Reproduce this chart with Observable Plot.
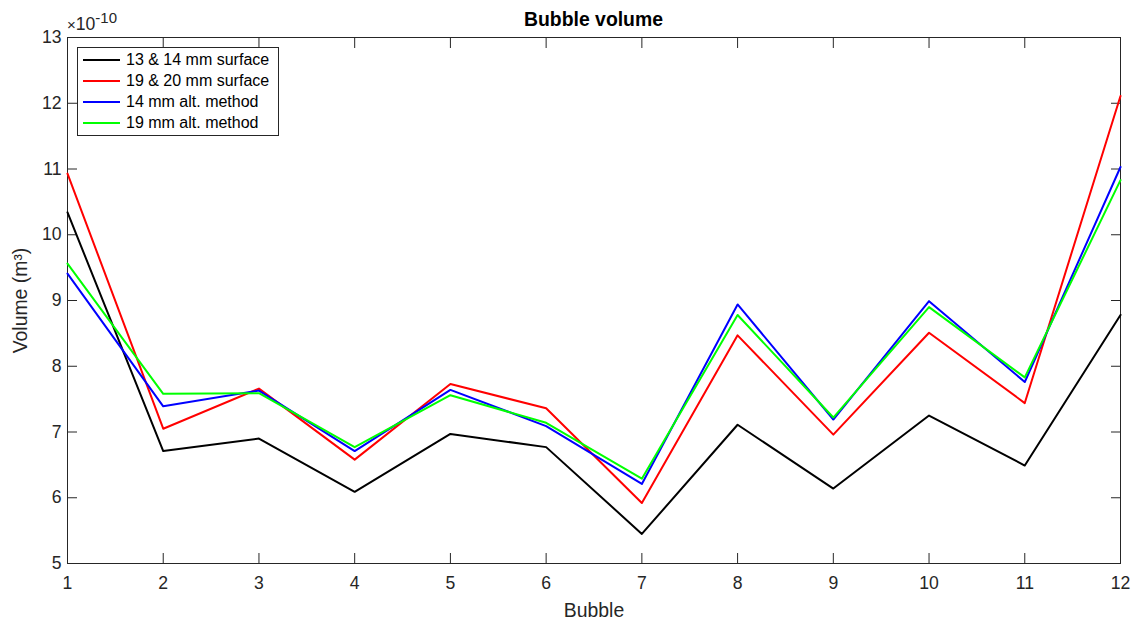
<!DOCTYPE html>
<html>
<head>
<meta charset="utf-8">
<script src="https://cdn.jsdelivr.net/npm/d3@7"></script>
<script src="https://cdn.jsdelivr.net/npm/@observablehq/plot@0.6"></script>
<style>
  html, body { margin: 0; padding: 0; background: #fff; }
  #wrap { position: relative; width: 1134px; height: 621px; font-family: "Liberation Sans", Arial, Helvetica, sans-serif; }
  #title { position: absolute; left: 0; width: 1187px; top: 8px; line-height: 22px; text-align: center; font-weight: bold; font-size: 19.4px; color: #000; }
  #expo { position: absolute; left: 67px; top: 14px; line-height: 20px; font-size: 17.6px; color: #262626; white-space: nowrap; }
  #expo .x { font-size: 15px; }
  #expo .sup { position: relative; top: -7px; font-size: 15px; }
  #legend { position: absolute; left: 77px; top: 47px; width: 202px; height: 89px; border: 1px solid #262626; background: #fff; box-sizing: border-box; }
  .lg-line { position: absolute; left: 5px; }
  .lg-text { position: absolute; left: 48px; height: 20px; line-height: 20px; font-size: 16px; color: #000; white-space: nowrap; }
</style>
</head>
<body>
<div id="wrap">
  <div id="chart"></div>
  <div id="title">Bubble volume</div>
  <div id="expo"><span class="x">×</span>10<span class="sup">-10</span></div>
  <div id="legend"></div>
</div>
<script>
const bubbles = [1, 2, 3, 4, 5, 6, 7, 8, 9, 10, 11, 12];
const seriesNames = ["13 & 14 mm surface", "19 & 20 mm surface", "14 mm alt. method", "19 mm alt. method"];
const seriesColors = ["#000000", "#ff0000", "#0000ff", "#00ff00"];
// values in units of 1e-10 m^3
const surface13_14 = [10.34, 6.71, 6.90, 6.09, 6.97, 6.77, 5.45, 7.11, 6.14, 7.25, 6.49, 8.78];
const surface19_20 = [10.93, 7.05, 7.66, 6.58, 7.73, 7.36, 5.92, 8.47, 6.96, 8.51, 7.44, 12.11];
const alt14 = [9.41, 7.39, 7.63, 6.71, 7.64, 7.09, 6.21, 8.94, 7.19, 8.99, 7.76, 11.03];
const alt19 = [9.56, 7.58, 7.59, 6.77, 7.56, 7.14, 6.29, 8.78, 7.22, 8.90, 7.83, 10.83];
const xTicks = [1, 2, 3, 4, 5, 6, 7, 8, 9, 10, 11, 12];
const yTicks = [5, 6, 7, 8, 9, 10, 11, 12, 13];

const allSeries = [surface13_14, surface19_20, alt14, alt19];
const rows = [];
allSeries.forEach((vals, i) => vals.forEach((v, j) => rows.push({bubble: bubbles[j], value: v, series: seriesNames[i]})));

const axisColor = "#262626";
const chart = Plot.plot({
  width: 1134,
  height: 621,
  marginLeft: 67,
  marginRight: 14,
  marginTop: 37,
  marginBottom: 58,
  style: {fontFamily: '"Liberation Sans", Arial, Helvetica, sans-serif', fontSize: "17.6px", color: axisColor, background: "#fff"},
  x: {domain: [1, 12]},
  y: {domain: [5, 13]},
  color: {domain: seriesNames, range: seriesColors},
  marks: [
    Plot.frame({stroke: axisColor, strokeWidth: 1}),
    Plot.axisX({anchor: "bottom", ticks: xTicks, tickSize: -10, tickPadding: 23, tickFormat: d => d, label: null, stroke: axisColor, fill: axisColor, strokeWidth: 1}),
    Plot.axisX({anchor: "bottom", ticks: [], label: "Bubble", labelAnchor: "center", labelOffset: 53, labelArrow: "none", fontSize: "19.4px", fill: axisColor}),
    Plot.axisX({anchor: "top", ticks: xTicks, tickSize: -10, tickFormat: () => "", label: null, stroke: axisColor, strokeWidth: 1}),
    Plot.axisY({anchor: "left", ticks: yTicks, tickSize: -10, tickPadding: 16, tickFormat: d => d, label: null, stroke: axisColor, fill: axisColor, strokeWidth: 1}),
    Plot.axisY({anchor: "left", ticks: [], label: "Volume (m³)", labelAnchor: "center", labelOffset: 54, labelArrow: "none", fontSize: "19.4px", fill: axisColor}),
    Plot.axisY({anchor: "right", ticks: yTicks, tickSize: -10, tickFormat: () => "", label: null, stroke: axisColor, strokeWidth: 1}),
    Plot.line(rows, {x: "bubble", y: "value", z: "series", stroke: "series", strokeWidth: 2})
  ]
});
document.getElementById("chart").appendChild(chart);

const legend = document.getElementById("legend");
const rowCenters = [12, 33, 54, 75];
seriesNames.forEach((name, i) => {
  const c = rowCenters[i];
  const ln = document.createElement("div");
  ln.className = "lg-line";
  ln.style.top = (c - 2) + "px";
  ln.innerHTML = `<svg width="40" height="4" style="display:block"><line x1="0" y1="2" x2="37" y2="2" stroke="${seriesColors[i]}" stroke-width="2"/></svg>`;
  legend.appendChild(ln);
  const tx = document.createElement("div");
  tx.className = "lg-text";
  tx.style.top = (c - 10) + "px";
  tx.textContent = name;
  legend.appendChild(tx);
});
</script>
</body>
</html>
